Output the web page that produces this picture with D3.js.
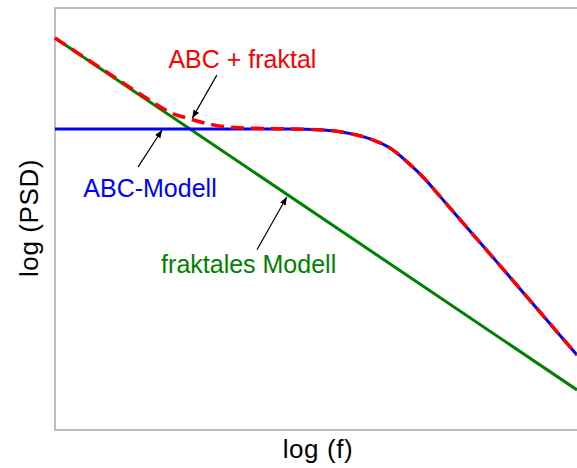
<!DOCTYPE html>
<html>
<head>
<meta charset="utf-8">
<script src="https://cdn.jsdelivr.net/npm/d3@7"></script>
<style>
  body { margin: 0; background: #fff; }
  text { font-family: "Liberation Sans", Arial, sans-serif; }
</style>
</head>
<body>
<svg id="chart" width="577" height="468"></svg>
<script>
const svg = d3.select("#chart");

// plot area (right edge runs past the window, like in the picture)
const xscale = d3.scaleLinear().domain([0, 10]).range([55, 577]);
const yscale = d3.scaleLinear().domain([0, 10]).range([430, 8]);

// log f / log PSD values (arbitrary units)
const fractalX = [0, 10];
const fractalY = [9.29, 0.95];

const abcX = [0, 4.50, 5.14, 5.46, 5.78, 6.10, 6.42, 6.74, 7.06, 7.38, 7.82, 8.46, 9.10, 10];
const abcY = [7.13, 7.13, 7.11, 7.07, 6.99, 6.87, 6.68, 6.36, 5.98, 5.53, 4.90, 3.99, 3.07, 1.777];

const sumX = [0, 1.25, 1.82, 2.20, 2.59, 3.03, 3.54, 3.98, 4.50, 5.14, 5.46, 5.78, 6.10, 6.42, 6.74, 7.06, 7.38, 7.82, 8.46, 9.10, 10];
const sumY = [9.29, 8.27, 7.81, 7.53, 7.37, 7.23, 7.16, 7.145, 7.135, 7.11, 7.07, 6.99, 6.87, 6.68, 6.36, 5.98, 5.53, 4.90, 3.99, 3.07, 1.777];

// annotations: label, colour, text position, arrow tail, arrow tip (data units)
const labels = ["ABC + fraktal", "ABC-Modell", "fraktales Modell"];
const labelColors = ["#ff0000", "#0000ff", "#008000"];
const labelPos = [[3.59, 8.58], [1.82, 5.53], [3.71, 3.72]];
const arrowFrom = [[3.10, 8.41], [1.59, 6.23], [3.87, 4.27]];
const arrowTo = [[2.63, 7.39], [2.05, 7.11], [4.44, 5.52]];

const line = d3.line()
    .x(d => xscale(d[0]))
    .y(d => yscale(d[1]))
    .curve(d3.curveMonotoneX);

svg.append("defs").append("marker")
    .attr("id", "head")
    .attr("viewBox", "0 0 10 10")
    .attr("refX", 10)
    .attr("refY", 5)
    .attr("markerWidth", 8)
    .attr("markerHeight", 8)
    .attr("markerUnits", "userSpaceOnUse")
    .attr("orient", "auto")
    .append("path")
    .attr("d", "M0,1 L10,5 L0,9 Z")
    .attr("fill", "black");

// frame
svg.append("rect")
    .attr("x", xscale(0))
    .attr("y", yscale(10))
    .attr("width", 600)
    .attr("height", yscale(0) - yscale(10))
    .attr("fill", "none")
    .attr("stroke", "#a8a8a8")
    .attr("stroke-width", 1.5);

svg.append("path")
    .datum(d3.zip(fractalX, fractalY))
    .attr("d", line)
    .attr("fill", "none")
    .attr("stroke", "#008000")
    .attr("stroke-width", 3);

svg.append("path")
    .datum(d3.zip(abcX, abcY))
    .attr("d", line)
    .attr("fill", "none")
    .attr("stroke", "#0000ff")
    .attr("stroke-width", 3);

svg.append("path")
    .datum(d3.zip(sumX, sumY))
    .attr("d", line)
    .attr("fill", "none")
    .attr("stroke", "#ff0000")
    .attr("stroke-width", 3.5)
    .attr("stroke-dasharray", "13,7");

labels.forEach((t, i) => {
    svg.append("line")
        .attr("x1", xscale(arrowFrom[i][0]))
        .attr("y1", yscale(arrowFrom[i][1]))
        .attr("x2", xscale(arrowTo[i][0]))
        .attr("y2", yscale(arrowTo[i][1]))
        .attr("stroke", "black")
        .attr("stroke-width", 1.2)
        .attr("marker-end", "url(#head)");
    svg.append("text")
        .attr("x", xscale(labelPos[i][0]))
        .attr("y", yscale(labelPos[i][1]))
        .attr("text-anchor", "middle")
        .attr("fill", labelColors[i])
        .style("font-size", "25px")
        .text(t);
});

svg.append("text")
    .attr("x", 318)
    .attr("y", 458)
    .attr("text-anchor", "middle")
    .style("font-size", "26px")
    .style("letter-spacing", "0.6px")
    .text("log (f)");

svg.append("text")
    .attr("transform", "translate(38,218) rotate(-90)")
    .attr("text-anchor", "middle")
    .style("font-size", "26px")
    .style("letter-spacing", "0.6px")
    .text("log (PSD)");
</script>
</body>
</html>
